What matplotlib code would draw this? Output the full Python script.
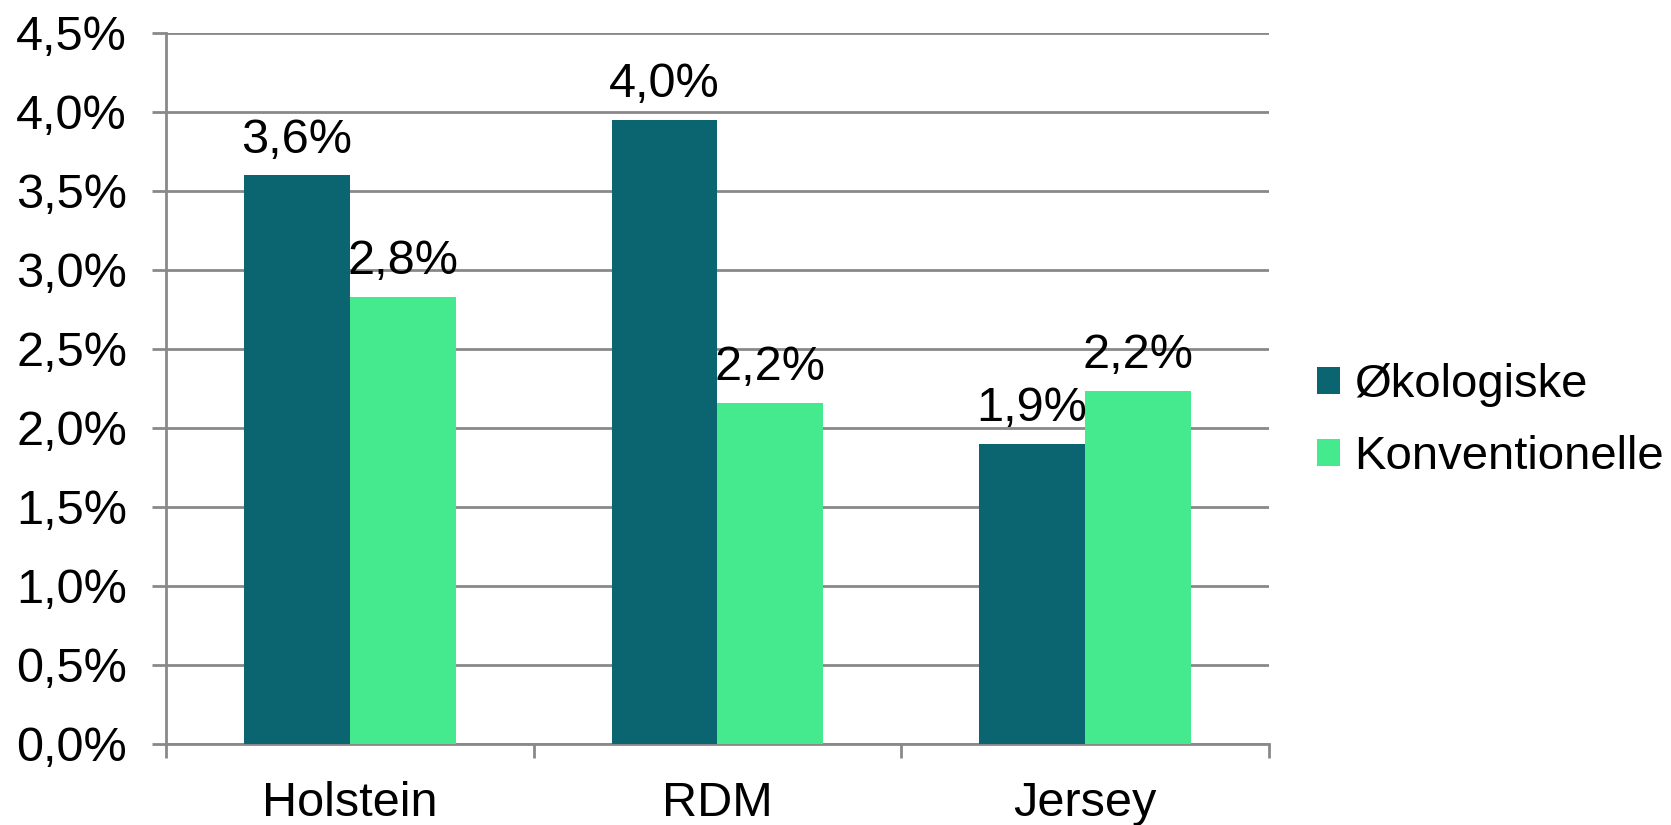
import numpy as np
import matplotlib.pyplot as plt
from matplotlib.ticker import FuncFormatter

plt.rcParams['font.family'] = ['Liberation Sans', 'DejaVu Sans']

# Data
breeds = ["Holstein", "RDM", "Jersey"]
oko = [3.60, 3.95, 1.90]
konv = [2.83, 2.16, 2.235]
oko_labels = ["3,6%", "4,0%", "1,9%"]
konv_labels = ["2,8%", "2,2%", "2,2%"]
y_ticks = [0.0, 0.5, 1.0, 1.5, 2.0, 2.5, 3.0, 3.5, 4.0, 4.5]

dark = "#0A6571"
light = "#45EA8F"
grid_col = "#898989"
fs = 35

fig = plt.figure(figsize=(16.71, 8.25), dpi=100)
ax = fig.add_axes([0.0993, 0.0982, 0.6601, 0.8618])

x = np.arange(len(breeds))
w = 0.288
b1 = ax.bar(x - w / 2, oko, w, color=dark, label="Økologiske", zorder=3)
b2 = ax.bar(x + w / 2, konv, w, color=light, label="Konventionelle", zorder=3)

for bars, labs in [(b1, oko_labels), (b2, konv_labels)]:
    for bar, lab in zip(bars, labs):
        ax.annotate(lab, (bar.get_x() + bar.get_width() / 2, bar.get_height()),
                    xytext=(0, 9), textcoords="offset points",
                    ha="center", va="bottom", fontsize=fs, zorder=4)

ax.set_xlim(-0.5, len(breeds) - 0.5)
ax.set_ylim(0, 4.5)
ax.set_yticks(y_ticks)
ax.yaxis.set_major_formatter(FuncFormatter(lambda v, p: f"{v:.1f}%".replace(".", ",")))
ax.set_xticks(x)
ax.set_xticklabels(breeds)
ax.set_xticks(np.arange(len(breeds) + 1) - 0.5, minor=True)

ax.grid(axis="y", color=grid_col, linewidth=2, zorder=0)
ax.set_axisbelow(True)
for s in ["top", "right"]:
    ax.spines[s].set_visible(False)
for s in ["left", "bottom"]:
    ax.spines[s].set_color(grid_col)
    ax.spines[s].set_linewidth(2)

ax.tick_params(axis="y", length=10, width=2, color=grid_col, labelsize=fs, pad=18)
ax.tick_params(axis="x", which="major", length=0, labelsize=fs, pad=27)
ax.tick_params(axis="x", which="minor", length=10, width=2, color=grid_col)

ax.legend(loc="center left", bbox_to_anchor=(1.026, 0.454), frameon=False,
          fontsize=34, handlelength=0.5, handleheight=0.5, handletextpad=0.3,
          labelspacing=0.6, borderaxespad=0)

fig.savefig("out.png", dpi=100)
